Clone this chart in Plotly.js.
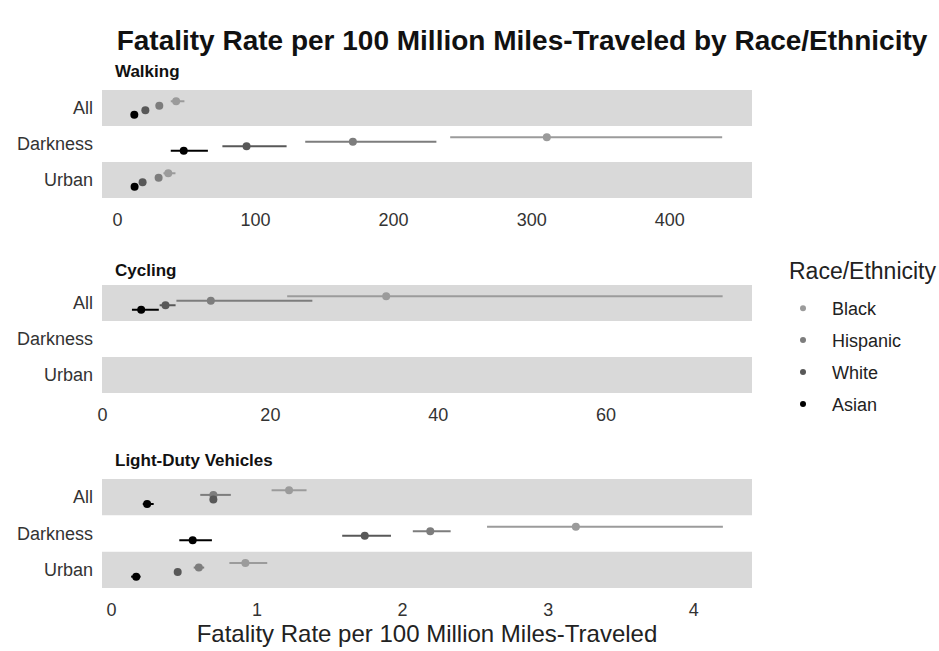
<!DOCTYPE html>
<html>
<head>
<meta charset="utf-8">
<script src="https://cdn.plot.ly/plotly-3.0.1.min.js"></script>
<style>html,body{margin:0;padding:0;background:#fff;}#chart{width:939px;height:651px;}</style>
</head>
<body>
<div id="chart"></div>
<script>
// ---- data (rows follow `races`, columns follow `categories`) ----
const categories = ['All', 'Darkness', 'Urban'];
const races = ['Black', 'Hispanic', 'White', 'Asian'];
const panelTitles = ['Walking', 'Cycling', 'Light-Duty Vehicles'];

const walkingRate = [[42.5, 311, 36.8], [30.3, 170.5, 29.8], [20.2, 93.5, 18.2], [12.2, 48, 12.4]];
const walkingLow  = [[38.6, 241, 33.3], [28.5, 136, 27.8], [19.0, 76, 17.2], [10.8, 38.6, 10.3]];
const walkingHigh = [[48.5, 438, 42.0], [32.2, 231, 31.8], [21.5, 122.5, 19.3], [13.6, 65.5, 14.0]];

const cyclingRate = [[33.8, null, null], [12.9, null, null], [7.5, null, null], [4.6, null, null]];
const cyclingLow  = [[22.0, null, null], [8.8, null, null], [6.8, null, null], [3.5, null, null]];
const cyclingHigh = [[73.9, null, null], [25.0, null, null], [8.7, null, null], [6.7, null, null]];

const vehicleRate = [[1.22, 3.19, 0.92], [0.70, 2.19, 0.60], [0.70, 1.74, 0.455], [0.245, 0.558, 0.17]];
const vehicleLow  = [[1.10, 2.58, 0.81], [0.61, 2.07, 0.565], [0.68, 1.585, 0.44], [0.215, 0.466, 0.135]];
const vehicleHigh = [[1.34, 4.20, 1.07], [0.82, 2.33, 0.637], [0.72, 1.92, 0.47], [0.29, 0.69, 0.20]];

const xTicks = [[0, 100, 200, 300, 400], [0, 20, 40, 60], [0, 1, 2, 3, 4]];
const xTitle = 'Fatality Rate per 100 Million Miles-Traveled';
const legendTitle = 'Race/Ethnicity';
const mainTitle = 'Fatality Rate per 100 Million Miles-Traveled by Race/Ethnicity';

// ---- styling ----
const raceColors = ['#9b9b9b', '#7d7d7d', '#585858', '#000000'];
const FONT = 'Liberation Sans, Arial, Helvetica, sans-serif';
const W = 939, H = 651;
const plotLeft = 102, plotRight = 752;
const panelPx = [[90, 198], [285, 393], [479, 588]];
const titleY = [72, 270, 460];
const xRanges = [[-11.2, 459.6], [-0.07, 77.4], [-0.065, 4.40]];
const dodgeWidth = 0.5;

const panels = [
  [walkingRate, walkingLow, walkingHigh],
  [cyclingRate, cyclingLow, cyclingHigh],
  [vehicleRate, vehicleLow, vehicleHigh]
];

const catPos = categories.map((c, i) => categories.length - i); // All=3, Darkness=2, Urban=1
const step = dodgeWidth / races.length;

const traces = [];
panels.forEach((p, pi) => {
  const [rate, low, high] = p;
  const ax = pi === 0 ? '' : String(pi + 1);
  races.forEach((race, ri) => {
    const off = ((races.length - 1) / 2 - ri) * step;
    const vals = rate[ri];
    traces.push({
      type: 'scatter', mode: 'markers',
      x: vals,
      y: catPos.map(c => c + off),
      xaxis: 'x' + ax, yaxis: 'y' + ax,
      marker: {color: raceColors[ri], size: 8},
      error_x: {
        type: 'data', symmetric: false,
        array: vals.map((v, k) => v == null ? null : high[ri][k] - v),
        arrayminus: vals.map((v, k) => v == null ? null : v - low[ri][k]),
        color: raceColors[ri], thickness: 2, width: 0
      },
      name: race, legendgroup: race, showlegend: false,
      hoverinfo: 'skip'
    });
  });
});
// legend entries
races.forEach((race, ri) => {
  traces.push({
    type: 'scatter', mode: 'markers', x: [null], y: [null],
    marker: {color: raceColors[ri], size: 6},
    name: race, legendgroup: race, showlegend: true
  });
});

const yDom = ([a, b]) => [1 - b / H, 1 - a / H];
const px2paperX = p => (p - plotLeft) / (plotRight - plotLeft);

const layout = {
  width: W, height: H,
  margin: {l: plotLeft, r: W - plotRight, t: 0, b: 0},
  paper_bgcolor: '#ffffff', plot_bgcolor: '#ffffff',
  font: {family: FONT, color: '#333333'},
  title: {
    text: mainTitle, xref: 'container', x: 522 / W, xanchor: 'center',
    yref: 'container', y: 1 - 40 / H, yanchor: 'middle',
    font: {family: FONT, size: 28, weight: 'bold', color: '#111111'}
  },
  showlegend: true,
  legend: {
    font: {size: 18, color: '#222222'},
    x: px2paperX(774), xanchor: 'left', xref: 'paper',
    y: 1 - 290 / H, yanchor: 'top', yref: 'paper',
    traceorder: 'grouped', tracegroupgap: 5.5, itemwidth: 48,
    bgcolor: 'rgba(0,0,0,0)'
  },
  shapes: [],
  annotations: [{
    text: legendTitle, xref: 'paper', x: px2paperX(787), xanchor: 'left',
    yref: 'paper', y: 1 - 271 / H, yanchor: 'middle', showarrow: false,
    font: {family: FONT, size: 23, color: '#222222'}
  }]
};

panels.forEach((p, pi) => {
  const ax = pi === 0 ? '' : String(pi + 1);
  layout['xaxis' + ax] = {
    domain: [0, 1], anchor: 'y' + ax, range: xRanges[pi],
    tickvals: xTicks[pi], ticks: '', showgrid: false, zeroline: false, showline: false,
    tickfont: {size: 18, color: '#333333'}, ticklabelstandoff: 9, fixedrange: true,
    automargin: false
  };
  layout['yaxis' + ax] = {
    domain: yDom(panelPx[pi]), anchor: 'x' + ax, range: [0.5, 3.5],
    tickvals: catPos, ticktext: categories, ticks: '', showgrid: false, zeroline: false, showline: false,
    tickfont: {size: 18, color: '#333333'}, ticklabelstandoff: 8, fixedrange: true,
    automargin: false
  };
  // alternating row bands
  [0, 2].forEach(ci => {
    layout.shapes.push({
      type: 'rect', xref: 'x' + ax + ' domain', yref: 'y' + ax,
      x0: 0, x1: 1, y0: catPos[ci] - 0.5, y1: catPos[ci] + 0.5,
      fillcolor: '#d9d9d9', line: {width: 0}, layer: 'below'
    });
  });
  layout.annotations.push({
    text: panelTitles[pi], xref: 'paper', x: px2paperX(113), xanchor: 'left',
    yref: 'paper', y: 1 - titleY[pi] / H, yanchor: 'middle', showarrow: false,
    font: {family: FONT, size: 17, weight: 'bold', color: '#111111'}
  });
});
layout.xaxis3.title = {text: xTitle, font: {size: 24, color: '#222222'}, standoff: 6};

Plotly.newPlot('chart', traces, layout, {displayModeBar: false, staticPlot: true});
</script>
</body>
</html>
